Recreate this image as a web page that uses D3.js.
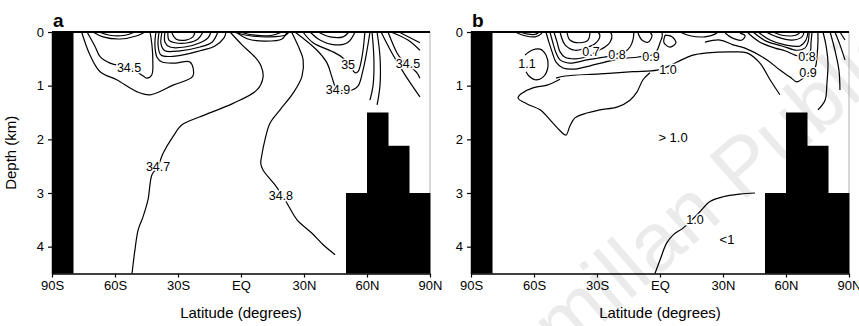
<!DOCTYPE html>
<html>
<head>
<meta charset="utf-8">
<script src="https://cdn.jsdelivr.net/npm/d3@7"></script>
<style>
  body { margin: 0; background: #fff; }
  svg { display: block; font-family: "Liberation Sans", Arial, sans-serif; }
</style>
</head>
<body>
<div id="chart"></div>
<script>
// ---- axes ----
const latTicks = [-90, -60, -30, 0, 30, 60, 90];
const latTickLabels = ['90S', '60S', '30S', 'EQ', '30N', '60N', '90N'];
const depthTicks = [0, 1, 2, 3, 4];

// ---- bathymetry (10 degree wide blocks: start latitude, top depth km) ----
const shelfLat = [-90, 50, 60, 70, 80];
const shelfTop = [0, 3.0, 1.5, 2.12, 3.0];

// ---- panel a: salinity contours [lat, depth km] ----
const a345south = [[-73.3,0],[-69.5,0.27],[-67.1,0.46],[-62.4,0.58],[-52.9,0.67],[-46.5,0.82],[-44.9,0.86],[-42.5,0.8],[-42.0,0.52],[-42.5,0.21],[-43.3,0]];
const a346 = [[-75.9,0],[-71.9,0.43],[-67.1,0.74],[-59.2,0.89],[-49.7,1.11],[-43.3,1.17],[-32.3,0.99],[-22.9,0.82],[-24.3,0.56],[-31.4,0.58],[-37.6,0.56],[-40.0,0.47],[-41.0,0.24],[-40.5,0]];
const a347 = [[-5.2,0],[0.5,0.24],[6.7,0.47],[9.5,0.63],[10.5,0.84],[7.6,1.08],[-3.8,1.33],[-19.5,1.58],[-28.1,1.73],[-32.4,1.95],[-37.1,2.26],[-39.5,2.5],[-42.4,2.66],[-44.3,3.13],[-46.7,3.45],[-49.0,3.69],[-50.5,4.06],[-51.9,4.5]];
const a348 = [[24.1,0],[28.1,0.34],[29.6,0.52],[29.0,0.83],[24.8,1.14],[18.6,1.45],[13.8,1.7],[11.4,2.01],[9.8,2.32],[9.4,2.45],[10.5,2.57],[16.2,2.85],[19.5,3.04],[21.9,3.19],[26.7,3.5],[33.8,3.75],[39.0,3.96],[44.8,4.15]];
const a349 = [[25.7,0],[36.2,0.34],[41.0,0.58],[43.3,0.84],[45.2,1.04],[48.6,1.1],[52.9,1.08],[55.7,1.01],[58.1,0.71],[60.0,0.34],[61.4,0]];
const a350 = [[29.5,0],[34.3,0.2],[43.8,0.37],[48.1,0.47],[51.9,0.63],[54.3,0.76],[55.7,0.74],[57.6,0.47],[59.0,0]];
const a345north = [[70.0,0],[74.3,0.39],[76.7,0.52],[79.5,0.61],[83.8,0.76],[85.2,0.86]];
const aSubtropA = [[-39.0,0],[-39.5,0.24],[-38.1,0.43],[-31.4,0.45],[-19.5,0.35],[-12.4,0.26],[-8.1,0.11],[-7.1,0]];
const aSubtropB = [[-37.6,0],[-38.1,0.22],[-36.2,0.35],[-29.0,0.35],[-19.5,0.28],[-13.8,0.19],[-11.0,0]];
const aSubtropC = [[-36.2,0],[-36.2,0.19],[-33.8,0.28],[-26.7,0.28],[-19.5,0.2],[-15.7,0.11],[-14.3,0]];
const aSubtropD = [[-34.8,0],[-34.3,0.15],[-31.4,0.2],[-25.2,0.2],[-20.5,0.13],[-18.1,0]];
const aSubtropE = [[-32.9,0.02],[-31.0,0.13],[-26.2,0.15],[-22.9,0.09],[-21.9,0]];
const aTropA = [[-3.8,0],[4.3,0.07],[13.8,0.09],[21.0,0.06],[22.9,0]];
const aTropB = [[-0.5,0],[6.7,0.06],[14.8,0.06],[19.5,0]];
const aTropC = [[-2.4,0],[3.3,0.13],[11.4,0.17],[19.5,0.13],[21.9,0]];
const aSouthA = [[-70.5,0],[-65.7,0.09],[-57.6,0.13],[-49.5,0.07],[-45.7,0]];
const aSouthB = [[-67.6,0],[-62.4,0.06],[-55.2,0.06],[-50.5,0]];
const aNorthA = [[32.9,0],[37.6,0.15],[44.8,0.24],[51.0,0.19],[54.3,0]];
const aNorthB = [[36.7,0],[42.4,0.09],[48.6,0.09],[51.4,0]];
const aPolarA = [[62.4,0],[63.3,0.52],[62.9,0.99],[61.4,1.27]];
const aPolarB = [[64.8,0],[66.2,0.47],[66.2,0.99],[64.8,1.36]];
const aPolarC = [[66.7,0],[72.4,0.43],[78.1,0.8],[85.2,1.21]];
const aPolarD = [[71.4,0],[79.5,0.15],[85.2,0.34]];
const aPolarE = [[75.2,0],[85.2,0.2]];
const aLabelText = ['34.5', '34.7', '34.8', '35', '34.9', '34.5'];
const aLabelLat = [-53.3, -39.5, 19.0, 51.0, 46.2, 79.5];
const aLabelDepth = [0.67, 2.5, 3.04, 0.61, 1.08, 0.58];

// ---- panel b: contours [lat, depth km] ----
const b11 = [[-64.3,0.43],[-61.0,0.34],[-57.1,0.32],[-54.3,0.43],[-53.3,0.63],[-55.7,0.84],[-59.5,0.89],[-62.4,0.82],[-63.8,0.74]];
const b10upper = [[-49.5,0.86],[-45.2,0.82],[-28.6,0.78],[-12.9,0.74],[-1.4,0.71],[3.3,0.65],[8.1,0.56],[15.7,0.43],[22.4,0.39],[34.8,0.37],[41.4,0.39],[47.6,0.58],[52.4,0.89],[57.1,1.17]];
const b10lobe = [[-47.6,0.88],[-53.8,0.99],[-60.5,1.04],[-65.7,1.14],[-67.6,1.23],[-63.3,1.34],[-57.1,1.45],[-51.4,1.68],[-47.6,1.84],[-44.8,1.92],[-42.9,1.75],[-40.5,1.6],[-34.8,1.51],[-28.6,1.45],[-20.5,1.4],[-14.3,1.27],[-11.0,1.12],[-8.1,0.89],[-4.8,0.76]];
const b09 = [[-54.3,0],[-52.9,0.19],[-51.4,0.37],[-49.5,0.56],[-46.2,0.67],[-40.5,0.69],[-33.3,0.63],[-26.2,0.56],[-19.0,0.5],[-11.0,0.47],[-7.1,0.45],[-3.8,0.43],[-1.4,0.34],[0,0.2],[1.0,0.09],[1.0,0]];
const b08 = [[-52.4,0],[-51.0,0.2],[-49.5,0.39],[-47.6,0.52],[-42.9,0.58],[-34.8,0.52],[-27.1,0.47],[-23.8,0.45],[-20.5,0.41],[-16.7,0.37],[-14.3,0.28],[-12.9,0.15],[-12.4,0]];
const b07 = [[-50.5,0],[-49.0,0.19],[-47.6,0.37],[-45.2,0.47],[-40.5,0.5],[-36.7,0.48],[-33.3,0.43],[-29.5,0.35],[-26.2,0.28],[-23.8,0.19],[-22.9,0.06],[-23.8,0]];
const b06 = [[-47.6,0],[-45.2,0.24],[-40.5,0.34],[-35.7,0.3],[-31.0,0.22],[-28.6,0.07],[-29.5,0]];
const b05 = [[-44.3,0],[-42.9,0.15],[-38.1,0.2],[-34.3,0.15],[-33.3,0]];
const bSouthA = [[-69.0,0],[-64.3,0.07],[-59.5,0.09],[-56.7,0.04],[-56.2,0]];
const bSouthB = [[-66.7,0],[-62.9,0.04],[-59.0,0.04],[-57.6,0]];
const bEqA = [[-10.5,0.02],[-8.6,0.15],[-5.7,0.19],[-3.8,0.07],[-4.8,0]];
const bEqB = [[2.4,0.06],[5.7,0.09],[7.6,0.2],[4.8,0.28],[1.9,0.2],[2.4,0.06]];
const bTropA = [[9.5,0],[14.3,0.07],[21.4,0.09],[26.2,0.04],[27.6,0]];
const bTropB = [[31.0,0.02],[34.3,0.11],[39.0,0.15],[40.5,0.07],[38.1,0.02]];
const bNorth09 = [[21.4,0.19],[28.6,0.15],[34.8,0.24],[40.5,0.3],[51.0,0.52],[57.1,0.71],[61.9,0.84],[65.2,0.93],[68.1,0.86],[71.4,0.74],[73.8,0.67],[74.8,0.43],[75.2,0.19],[75.2,0]];
const bNorth08 = [[41.9,0.02],[47.6,0.19],[54.8,0.3],[59.5,0.35],[64.3,0.43],[66.7,0.45],[71.4,0.37],[71.9,0.2],[72.4,0]];
const bNorthA = [[44.3,0],[50.5,0.17],[58.1,0.26],[65.2,0.34],[69.0,0.3],[70.5,0.19],[71.0,0]];
const bNorthB = [[46.7,0],[52.4,0.15],[59.5,0.24],[66.7,0.26],[69.5,0.15],[70.5,0]];
const bNorthC = [[50.5,0],[55.7,0.09],[62.9,0.15],[67.6,0.09],[68.6,0]];
const bNorthD = [[53.8,0],[58.1,0.06],[63.3,0.07],[65.7,0.04],[66.7,0]];
const bPolarA = [[77.6,0],[79.0,0.24],[80.0,0.58],[79.5,0.95],[78.6,1.27],[75.2,1.45]];
const bPolarB = [[81.0,0],[83.3,0.34],[85.2,0.71],[85.7,1.08]];
const bPolarC = [[83.3,0],[85.7,0.24],[88.1,0.52]];
const bPolarD = [[85.7,0],[88.1,0.15]];
const b10deep = [[-2.4,4.5],[0,4.25],[3.2,3.93],[6.3,3.78],[11.1,3.65],[15.7,3.48],[19.0,3.35],[23.8,3.16],[30.0,3.07],[38.1,3.02],[45.2,3.0]];
const bLabelText = ['1.1', '0.7', '0.8', '0.9', '1.0', '0.8', '0.9', '1.0'];
const bLabelLat = [-63.3, -32.9, -20.5, -4.3, 3.8, 70.0, 70.5, 16.7];
const bLabelDepth = [0.58, 0.37, 0.41, 0.45, 0.69, 0.45, 0.76, 3.5];
const bNoteText = ['> 1.0', '<1'];
const bNoteLat = [6.2, 31.9];
const bNoteDepth = [1.96, 3.87];

const linesA = [a345south, a346, a347, a348, a349, a350, a345north, aSubtropA, aSubtropB, aSubtropC, aSubtropD, aSubtropE,
  aTropA, aTropB, aTropC, aSouthA, aSouthB, aNorthA, aNorthB, aPolarA, aPolarB, aPolarC, aPolarD, aPolarE];
const linesB = [b11, b10upper, b10lobe, b09, b08, b07, b06, b05, bSouthA, bSouthB, bEqA, bEqB, bTropA, bTropB,
  bNorth09, bNorth08, bNorthA, bNorthB, bNorthC, bNorthD, bPolarA, bPolarB, bPolarC, bPolarD, b10deep];

const width = 859, height = 326;
const plotW = 378;
const plotTop = 32, plotBottom = 273.5;

const svg = d3.select('#chart')
  .append('svg')
  .attr('width', width)
  .attr('height', height);

// publisher watermark (sits behind everything, runs off the page like the scan)
svg.append('text')
  .attr('transform', 'translate(738,206) rotate(-41)')
  .attr('text-anchor', 'middle')
  .style('font-size', '82px')
  .style('fill', '#ebebeb')
  .text('Macmillan Publishers');

function drawPanel(x0, letter, lines, labelText, labelLat, labelDepth, withYTitle) {
  const x = d3.scaleLinear().domain([-90, 90]).range([x0, x0 + plotW]);
  const y = d3.scaleLinear().domain([0, 4.5]).range([plotTop, plotBottom]);
  const g = svg.append('g');

  const line = d3.line()
    .x((d) => x(d[0]))
    .y((d) => y(d[1]))
    .curve(d3.curveCatmullRom.alpha(0.5));

  g.append('g')
    .selectAll('path')
    .data(lines)
    .enter()
    .append('path')
      .attr('d', line)
      .attr('fill', 'none')
      .attr('stroke', '#000')
      .attr('stroke-width', 1.2)
      .attr('stroke-linejoin', 'round');

  // contour labels with a white halo so the line looks broken
  g.append('g')
    .selectAll('text')
    .data(labelText)
    .enter()
    .append('text')
      .attr('x', (d, i) => x(labelLat[i]))
      .attr('y', (d, i) => y(labelDepth[i]))
      .attr('dy', '0.36em')
      .attr('text-anchor', 'middle')
      .style('font-size', '12.5px')
      .style('paint-order', 'stroke')
      .style('stroke', '#fff')
      .style('stroke-width', '3px')
      .text((d) => d);

  // land / sea floor
  g.append('g')
    .selectAll('rect')
    .data(shelfLat)
    .enter()
    .append('rect')
      .attr('x', (d) => x(d))
      .attr('width', (d) => x(d + 10) - x(d) + 0.5)
      .attr('y', (d, i) => y(shelfTop[i]))
      .attr('height', (d, i) => y(4.5) - y(shelfTop[i]))
      .attr('fill', '#000');

  // right frame (faint) and top frame (heavy)
  g.append('line')
    .attr('x1', x(90)).attr('x2', x(90))
    .attr('y1', y(0)).attr('y2', y(3))
    .attr('stroke', '#999').attr('stroke-width', 0.8);
  g.append('line')
    .attr('x1', x(-90)).attr('x2', x(90))
    .attr('y1', y(0)).attr('y2', y(0))
    .attr('stroke', '#000').attr('stroke-width', 2.2);

  const yAxis = g.append('g')
    .attr('transform', `translate(${x0},0)`)
    .call(d3.axisLeft(y).tickValues(depthTicks).tickSize(4).tickSizeOuter(0).tickPadding(4).tickFormat(d3.format('d')));
  const xAxis = g.append('g')
    .attr('transform', `translate(0,${plotBottom})`)
    .call(d3.axisBottom(x).tickValues(latTicks).tickSize(4).tickSizeOuter(0).tickPadding(3)
      .tickFormat((d, i) => latTickLabels[i]));
  [yAxis, xAxis].forEach((ax) => {
    ax.attr('font-family', null).attr('font-size', null);
    ax.selectAll('text').style('font-size', '13px').attr('fill', '#000');
    ax.selectAll('line').attr('stroke', '#000').attr('stroke-width', 1.2);
    ax.select('.domain').attr('stroke', '#000').attr('stroke-width', 1.5);
  });

  g.append('text')
    .attr('x', x(0))
    .attr('y', 318)
    .attr('text-anchor', 'middle')
    .style('font-size', '15px')
    .text('Latitude (degrees)');

  g.append('text')
    .attr('x', x0 + 1)
    .attr('y', 27)
    .style('font-size', '19px')
    .style('font-weight', 'bold')
    .text(letter);

  if (withYTitle) {
    g.append('text')
      .attr('transform', `translate(16,${(plotTop + plotBottom) / 2}) rotate(-90)`)
      .attr('text-anchor', 'middle')
      .style('font-size', '15px')
      .text('Depth (km)');
  }
  return { x, y, g };
}

drawPanel(52, 'a', linesA, aLabelText, aLabelLat, aLabelDepth, true);
const pb = drawPanel(471, 'b', linesB, bLabelText, bLabelLat, bLabelDepth, false);

// region notes in panel b
pb.g.append('g')
  .selectAll('text')
  .data(bNoteText)
  .enter()
  .append('text')
    .attr('x', (d, i) => pb.x(bNoteLat[i]))
    .attr('y', (d, i) => pb.y(bNoteDepth[i]))
    .attr('dy', '0.36em')
    .attr('text-anchor', 'middle')
    .style('font-size', '13px')
    .text((d) => d);
</script>
</body>
</html>
